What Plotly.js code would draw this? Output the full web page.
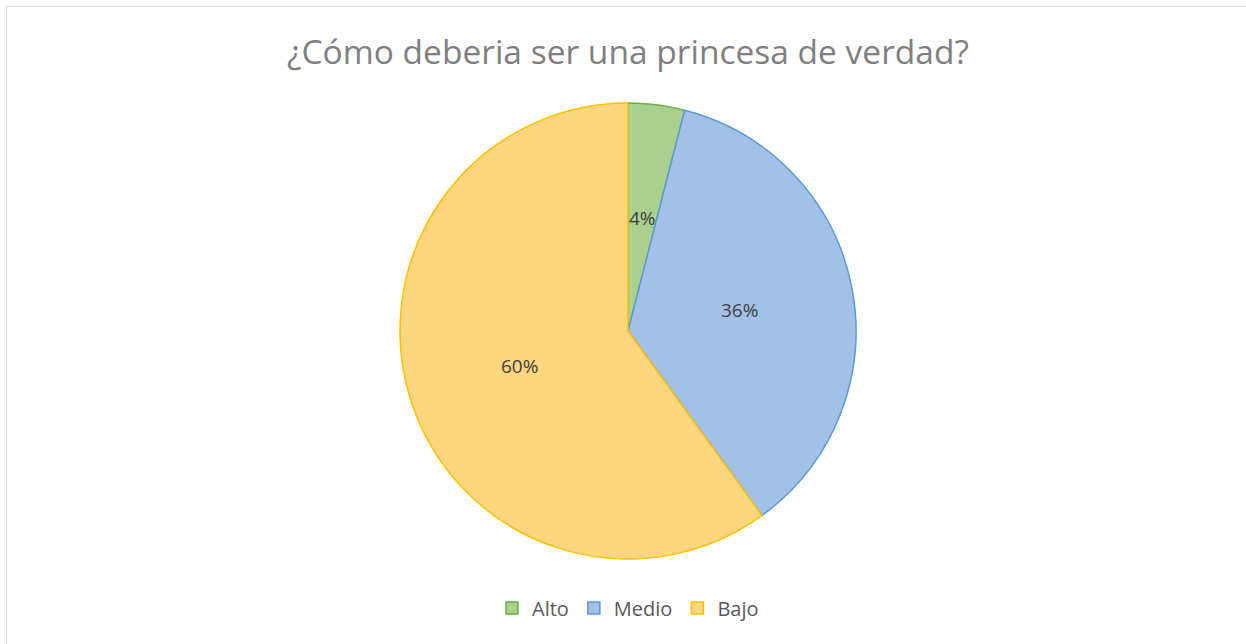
<!DOCTYPE html>
<html>
<head>
<meta charset="utf-8">
<script src="https://cdn.plot.ly/plotly-3.0.1.min.js"></script>
<style>
  html, body { margin: 0; padding: 0; background: #ffffff; }
  #frame { position: absolute; left: 0; top: 0; width: 1246px; height: 644px; overflow: hidden; }
  #border { position: absolute; left: 6px; top: 6px; width: 1246px; height: 644px;
            border-left: 1px solid #d9d9d9; border-top: 1px solid #d9d9d9; pointer-events: none; }
  #chart { position: absolute; left: 0; top: 0; width: 1246px; height: 644px; }
</style>
</head>
<body>
<div id="frame">
  <div id="chart"></div>
  <div id="border"></div>
</div>
<script>
const categories = ["Alto", "Medio", "Bajo"];
const values = [4, 36, 60];
const fillColors = ["#a9d08e", "#a3c0e6", "#fed680"];
const lineColors = ["#70ad47", "#5b9bd5", "#ffc000"];
const chartTitle = "¿Cómo deberia ser una princesa de verdad?";

const W = 1246, H = 644;
const cx = 628, cy = 331, R = 228;
const domX = [(cx - R) / W, (cx + R) / W];
const domY = [1 - (cy + R) / H, 1 - (cy - R) / H];

// label positions computed from data: halfway along each slice bisector
const total = values.reduce((a, b) => a + b, 0);
let cum = 0;
const annotations = values.map((v, i) => {
  const mid = (cum + v / 2) / total * 2 * Math.PI;
  cum += v;
  const px = cx + 0.5 * R * Math.sin(mid);
  const py = cy - 0.5 * R * Math.cos(mid);
  return {
    xref: "paper", yref: "paper",
    x: px / W, y: 1 - py / H,
    text: Math.round(v / total * 100) + "%",
    showarrow: false,
    font: { family: "Open Sans, Noto Sans, sans-serif", size: 19, color: "#404040" },
    xanchor: "center", yanchor: "middle"
  };
});

const data = [{
  type: "pie",
  labels: categories,
  values: values,
  sort: false,
  direction: "clockwise",
  rotation: 0,
  textinfo: "none",
  hoverinfo: "label+percent",
  marker: { colors: fillColors, line: { color: lineColors, width: 1.5 } },
  domain: { x: domX, y: domY }
}];

const layout = {
  width: W, height: H,
  margin: { l: 0, r: 0, t: 0, b: 0 },
  paper_bgcolor: "#ffffff",
  plot_bgcolor: "#ffffff",
  title: {
    text: chartTitle,
    font: { family: "Open Sans, Noto Sans, sans-serif", size: 33.5, color: "#7f7f7f" },
    x: 0.504, xanchor: "center",
    y: 1 - 52 / H, yanchor: "middle"
  },
  showlegend: true,
  legend: {
    orientation: "h",
    x: 0.504, xanchor: "center",
    y: 1 - 608 / H, yanchor: "middle",
    font: { family: "Open Sans, Noto Sans, sans-serif", size: 20, color: "#595959" },
    itemwidth: 30,
    traceorder: "normal"
  },
  annotations: annotations
};

Plotly.newPlot("chart", data, layout, { displayModeBar: false, staticPlot: true });
</script>
</body>
</html>
